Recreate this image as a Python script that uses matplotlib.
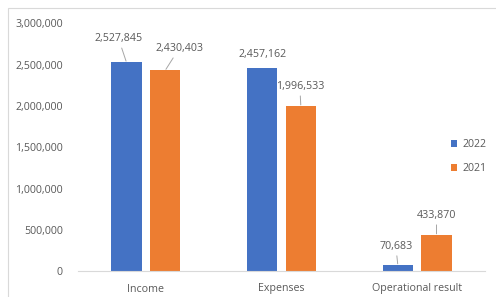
import numpy as np
import matplotlib.pyplot as plt
from matplotlib.patches import Rectangle

plt.rcParams['font.family'] = ['Open Sans', 'DejaVu Sans']

categories = ['Income', 'Expenses', 'Operational result']
values_2022 = [2527845, 2457162, 70683]
values_2021 = [2430403, 1996533, 433870]
series = ['2022', '2021']

# label offsets in pixels (dx, dy) and whether a leader line is shown
offsets_2022 = [(-8, 24, True), (0, 14, False), (-2, 19, True)]
offsets_2021 = [(14, 22, True), (-1, 20, True), (0, 20, True)]

blue = '#4472C4'
orange = '#ED7D31'
grey = '#595959'
fs = 7.7

W, H = 496, 297
fig = plt.figure(figsize=(W / 100, H / 100), dpi=100)
fig.patches.append(Rectangle((8 / W, -0.1), 1.1, (H - 8) / H + 0.1, transform=fig.transFigure,
                             fill=False, edgecolor='#D9D9D9', linewidth=0.8))

ax = fig.add_axes([78 / W, 26 / H, (485 - 78) / W, (271 - 23.5) / H])
x = np.arange(len(categories))
bw = 0.225
gap = 0.06
b1 = ax.bar(x - (bw + gap) / 2, values_2022, bw, color=blue, label=series[0])
b2 = ax.bar(x + (bw + gap) / 2, values_2021, bw, color=orange, label=series[1])

ax.set_xlim(-0.5, len(categories) - 0.5)
ax.set_ylim(0, 3000000)
ax.set_yticks(np.arange(0, 3000001, 500000))
ax.yaxis.set_major_formatter(plt.FuncFormatter(lambda v, p: f'{int(v):,}'))
ax.set_xticks(x)
ax.set_xticklabels(categories)
ax.tick_params(axis='both', length=0, labelsize=fs, labelcolor=grey)
ax.tick_params(axis='y', pad=11)
ax.tick_params(axis='x', pad=9)
for s in ['top', 'right', 'left']:
    ax.spines[s].set_visible(False)
ax.spines['bottom'].set_color('#D9D9D9')
ax.spines['bottom'].set_linewidth(0.8)

for bars, vals, offs in [(b1, values_2022, offsets_2022), (b2, values_2021, offsets_2021)]:
    for bar, v, (dx, dy, lead) in zip(bars, vals, offs):
        cx = bar.get_x() + bar.get_width() / 2
        ap = dict(arrowstyle='-', color='#A6A6A6', lw=0.7, shrinkA=1, shrinkB=1) if lead else None
        ax.annotate(f'{v:,}', xy=(cx, v), xytext=(dx, dy), textcoords='offset pixels',
                    ha='center', va='center', fontsize=fs, color=grey, arrowprops=ap)

leg = fig.legend(handles=[b1, b2], labels=series, loc='upper left',
                 bbox_to_anchor=(446 / W, 1 - 134 / H), frameon=False, fontsize=fs,
                 labelcolor=grey, handlelength=0.55, handleheight=0.55, handletextpad=0.5,
                 labelspacing=1.2, borderpad=0)

fig.savefig('out.png', dpi=100)
